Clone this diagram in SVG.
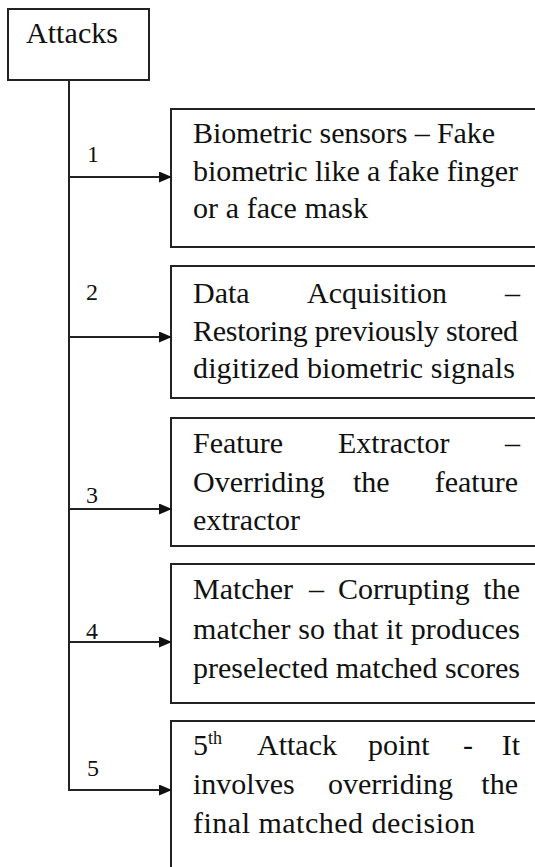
<svg xmlns="http://www.w3.org/2000/svg" width="535" height="867" viewBox="0 0 535 867">
<style>
  .box{fill:#fff;stroke:#222;stroke-width:2}
  .t{font-family:'Liberation Serif',Tinos,'DejaVu Serif',serif;font-size:30px;fill:#111}
  .lbl{font-family:'Liberation Serif',Tinos,'DejaVu Serif',serif;font-size:24px;fill:#111}
  .sup{font-family:'Liberation Serif',Tinos,'DejaVu Serif',serif;font-size:18px;fill:#111}
  .ln{stroke:#222;stroke-width:2;fill:none}
  .end{text-anchor:end}
</style>
<defs>
  <marker id="ah" markerWidth="13" markerHeight="11" refX="12" refY="5.5" orient="auto" markerUnits="userSpaceOnUse">
    <path d="M0,0 L13,5.5 L0,11 Z" fill="#111"/>
  </marker>
</defs>
<rect width="535" height="867" fill="#fff"/>

<g id="attacks">
  <rect class="box" x="8" y="9" width="141" height="71"/>
  <text class="t" x="26" y="43" textLength="92">Attacks</text>
</g>

<g id="node1">
  <rect class="box" x="171" y="109" width="380" height="138"/>
  <text class="t" x="193" y="143" textLength="302">Biometric sensors – Fake</text>
  <text class="t" x="193" y="181" textLength="325">biometric like a fake finger</text>
  <text class="t" x="193" y="218" textLength="175">or a face mask</text>
</g>

<g id="node2">
  <rect class="box" x="171" y="266" width="380" height="132"/>
  <text class="t" x="193" y="303">Data</text>
  <text class="t" x="307" y="303">Acquisition</text>
  <text class="t end" x="520" y="303">–</text>
  <text class="t" x="193" y="341" textLength="325">Restoring previously stored</text>
  <text class="t" x="193" y="378" textLength="322">digitized biometric signals</text>
</g>

<g id="node3">
  <rect class="box" x="171" y="418" width="380" height="128"/>
  <text class="t" x="193" y="453">Feature</text>
  <text class="t" x="338" y="453">Extractor</text>
  <text class="t end" x="520" y="453">–</text>
  <text class="t" x="193" y="492">Overriding</text>
  <text class="t" x="353" y="492">the</text>
  <text class="t end" x="518" y="492">feature</text>
  <text class="t" x="193" y="530" textLength="107">extractor</text>
</g>

<g id="node4">
  <rect class="box" x="171" y="564" width="380" height="139"/>
  <text class="t" x="193" y="599">Matcher</text>
  <text class="t" x="309" y="599">–</text>
  <text class="t" x="338" y="599">Corrupting</text>
  <text class="t end" x="520" y="599">the</text>
  <text class="t" x="193" y="639" textLength="327">matcher so that it produces</text>
  <text class="t" x="193" y="678" textLength="327">preselected matched scores</text>
</g>

<g id="node5">
  <rect class="box" x="171" y="721" width="380" height="160"/>
  <text class="t" x="193" y="755">5</text>
  <text class="sup" x="208" y="744">th</text>
  <text class="t" x="257" y="755">Attack</text>
  <text class="t" x="368" y="755">point</text>
  <text class="t" x="463" y="755">-</text>
  <text class="t end" x="520" y="755">It</text>
  <text class="t" x="193" y="794">involves</text>
  <text class="t" x="328" y="794">overriding</text>
  <text class="t end" x="518" y="794">the</text>
  <text class="t" x="193" y="833" textLength="282">final matched decision</text>
</g>

<g id="connectors">
  <path class="ln" d="M69,80 V790"/>
  <line class="ln" x1="69" y1="177" x2="171" y2="177" marker-end="url(#ah)"/>
  <line class="ln" x1="69" y1="337" x2="171" y2="337" marker-end="url(#ah)"/>
  <line class="ln" x1="69" y1="509" x2="171" y2="509" marker-end="url(#ah)"/>
  <line class="ln" x1="69" y1="642" x2="171" y2="642" marker-end="url(#ah)"/>
  <line class="ln" x1="68" y1="790" x2="171" y2="790" marker-end="url(#ah)"/>
  <text class="lbl" x="87" y="162">1</text>
  <text class="lbl" x="86" y="300">2</text>
  <text class="lbl" x="86" y="503">3</text>
  <text class="lbl" x="86" y="639">4</text>
  <text class="lbl" x="87" y="776">5</text>
</g>
</svg>
